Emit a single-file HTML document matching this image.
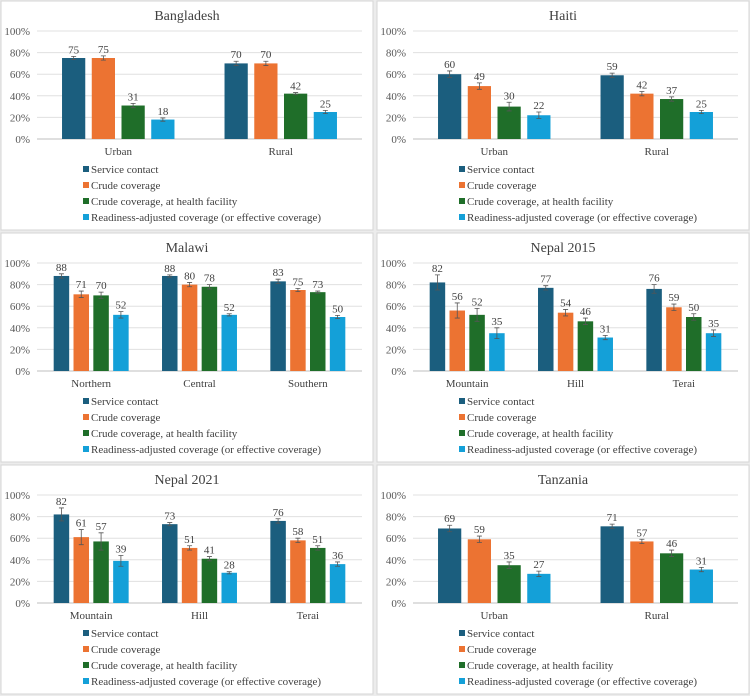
<!DOCTYPE html>
<html><head><meta charset="utf-8">
<style>
html,body{margin:0;padding:0;background:#ececec;}
#wrap{position:relative;width:750px;height:696px;overflow:hidden;}
svg{font-family:"Liberation Serif",serif;}
</style></head>
<body>
<div id="wrap">
<svg id="svg" width="750" height="696" viewBox="0 0 750 696"></svg>
</div>
<script>
const seriesNames = ["Service contact","Crude coverage","Crude coverage, at health facility","Readiness-adjusted coverage (or effective coverage)"];
const seriesColors = ["#1b5e7e","#ec7332","#1f6e29","#14a0d8"];
const yTicks = [0,20,40,60,80,100];
const panelTitles = ["Bangladesh","Haiti","Malawi","Nepal 2015","Nepal 2021","Tanzania"];
const panelCategories = [["Urban","Rural"],["Urban","Rural"],["Northern","Central","Southern"],["Mountain","Hill","Terai"],["Mountain","Hill","Terai"],["Urban","Rural"]];
const panelValues = [
 [[75,75,31,18],[70,70,42,25]],
 [[60,49,30,22],[59,42,37,25]],
 [[88,71,70,52],[88,80,78,52],[83,75,73,50]],
 [[82,56,52,35],[77,54,46,31],[76,59,50,35]],
 [[82,61,57,39],[73,51,41,28],[76,58,51,36]],
 [[69,59,35,27],[71,57,46,31]]
];
const panelErrors = [
 [[1.5,2,2,1.5],[2,2,1,1.5]],
 [[3,3,4,3],[2,2,2,1.5]],
 [[2,3,3,3],[1,2,2,1],[2,1.5,1,1.5]],
 [[7,7,6,5],[2,3,3,2],[4,3,3,3]],
 [[6,7,8,5],[1.5,2,2,1],[2,2,2,2]],
 [[3,3,3,2.5],[2,2,3,2]]
];

const NS="http://www.w3.org/2000/svg";
const svg=document.getElementById('svg');
function mk(tag,attrs,parent,text){const e=document.createElementNS(NS,tag);for(const k in attrs)e.setAttribute(k,attrs[k]);if(text!==undefined)e.textContent=text;parent.appendChild(e);return e;}

const panelX=[1,377], panelY=[1,233,465], PW=372, PH=229;
for(let p=0;p<6;p++){
  const px=panelX[p%2], py=panelY[Math.floor(p/2)];
  const g=mk('g',{transform:`translate(${px},${py})`},svg);
  
  
  const bg=mk('rect',{x:0,y:0,width:PW,height:PH,fill:'#fff',stroke:'#d6d6d6','stroke-width':1},g);
  
  
  const t=mk('text',{x:PW/2,y:19,'text-anchor':'middle','font-size':14,fill:'#404040'},g,panelTitles[p]);
  
  
  const x0=36,x1=361,y0=138,y1=30;
  const ys=v=>y0-(v/100)*(y0-y1);
  yTicks.forEach(v=>{
    const l=mk('line',{x1:x0,x2:x1,y1:ys(v),y2:ys(v),stroke:v===0?'#bfbfbf':'#e0e0e0','stroke-width':1},g);
    
    
    const tl=mk('text',{x:29,y:ys(v)+4,'text-anchor':'end','font-size':11,fill:'#595959'},g,v+'%');
    
    
  });
  const cats=panelCategories[p], n=cats.length, cw=(x1-x0)/n;
  const bw=cw*0.143, step=cw*0.183;
  cats.forEach((c,ci)=>{
    const cx=x0+cw*(ci+0.5);
    const cl=mk('text',{x:cx,y:154,'text-anchor':'middle','font-size':11,fill:'#404040'},g,c);
    
    
    panelValues[p][ci].forEach((v,si)=>{
      const bx=cx+(si-1.5)*step-bw/2;
      const r=mk('rect',{x:bx,y:ys(v),width:bw,height:y0-ys(v),fill:seriesColors[si]},g);
      
      
      const e=panelErrors[p][ci][si], bxc=bx+bw/2;
      const eb=mk('path',{d:`M${bxc},${ys(v+e)}V${ys(v-e)}M${bxc-2.5},${ys(v+e)}H${bxc+2.5}M${bxc-2.5},${ys(v-e)}H${bxc+2.5}`,stroke:'#555','stroke-width':0.8,fill:'none'},g);
      
      
      const vl=mk('text',{x:bxc,y:ys(v+e)-3,'text-anchor':'middle','font-size':11,fill:'#404040'},g,String(v));
      
      
    });
  });
  seriesNames.forEach((s,si)=>{
    const ly=169+si*16;
    const lg=mk('g',{},g);
    
    
    mk('rect',{x:82,y:ly-4,width:6,height:6,fill:seriesColors[si]},lg);
    mk('text',{x:90,y:ly+3,'font-size':11,fill:'#404040'},lg,s);
  });
}
</script>
</body></html>
